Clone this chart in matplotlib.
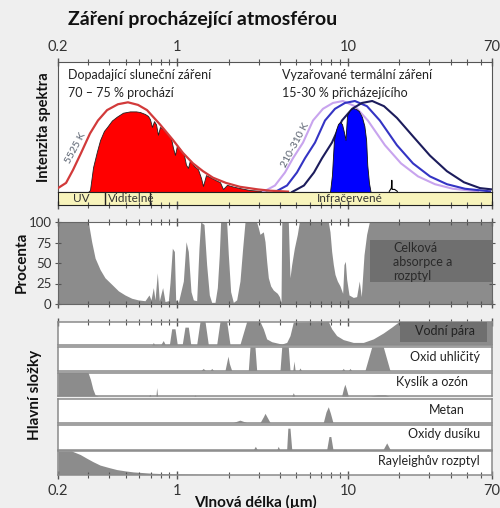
import matplotlib
matplotlib.use('Agg')
import matplotlib.pyplot as plt
from matplotlib.ticker import FixedLocator, NullFormatter
from matplotlib.patches import Rectangle

# ---------------- data ----------------
title = 'Záření procházející atmosférou'
x_major = [0.2, 1, 10, 70]
x_major_labels = ['0.2', '1', '10', '70']
x_minor = [0.3, 0.4, 0.5, 0.6, 0.7, 0.8, 0.9, 2, 3, 4, 5, 6, 7, 8, 9, 20, 30, 40, 50, 60]

# solar 5525 K curve (relative intensity)
sun_w = [0.2, 0.223, 0.245, 0.273, 0.308, 0.343, 0.388, 0.449, 0.514, 0.589, 0.665,
         0.792, 0.944, 1.081, 1.237, 1.416, 1.62, 1.93, 2.33, 2.97, 3.50, 4.46]
sun_v = [0.03, 0.07, 0.17, 0.30, 0.45, 0.55, 0.63, 0.675, 0.69, 0.67, 0.63,
         0.52, 0.40, 0.30, 0.22, 0.16, 0.11, 0.07, 0.04, 0.02, 0.01, 0.003]

# solar radiation reaching ground
sunT_w = [0.300, 0.308, 0.321, 0.338, 0.353, 0.372, 0.388, 0.414, 0.443, 0.481, 0.528,
          0.573, 0.605, 0.647, 0.674, 0.692, 0.711, 0.731, 0.751, 0.771, 0.792, 0.836,
          0.883, 0.919, 0.944, 0.970, 0.997, 1.052, 1.095, 1.125, 1.156, 1.188, 1.254,
          1.323, 1.378, 1.416, 1.474, 1.577, 1.687, 1.781, 1.854, 1.957, 2.122, 2.33,
          2.669, 3.14, 3.593]
sunT_v = [0.0, 0.015, 0.19, 0.31, 0.40, 0.47, 0.50, 0.55, 0.58, 0.61, 0.62,
          0.62, 0.615, 0.60, 0.585, 0.56, 0.50, 0.545, 0.52, 0.44, 0.50, 0.48,
          0.44, 0.415, 0.34, 0.285, 0.36, 0.32, 0.285, 0.21, 0.185, 0.245, 0.20,
          0.175, 0.108, 0.046, 0.13, 0.11, 0.09, 0.075, 0.023, 0.055, 0.042, 0.03,
          0.015, 0.008, 0.0]

# thermal emission curves 210-310 K
th1_w = [3.18, 3.74, 4.28, 4.77, 5.46, 6.25, 7.15, 8.18, 9.37, 11.0, 13.1, 16.5, 20.5, 25.8, 32.4, 41.3, 57.9]
th1_v = [0.0, 0.05, 0.15, 0.26, 0.38, 0.55, 0.64, 0.685, 0.70, 0.66, 0.55, 0.36, 0.22, 0.12, 0.06, 0.025, 0.005]
th2_w = [3.74, 4.40, 5.03, 5.61, 6.42, 7.35, 8.41, 9.62, 11.0, 12.95, 15.4, 19.4, 24.1, 30.3, 38.1, 48.6, 68.1]
th2_v = [0.0, 0.05, 0.15, 0.26, 0.38, 0.55, 0.64, 0.685, 0.70, 0.66, 0.55, 0.36, 0.22, 0.12, 0.06, 0.025, 0.005]
th3_w = [4.71, 5.53, 6.33, 7.06, 8.07, 9.24, 10.6, 12.1, 13.9, 16.3, 19.4, 24.4, 30.3, 38.1, 47.9, 59.5, 70]
th3_v = [0.0, 0.05, 0.15, 0.26, 0.38, 0.55, 0.64, 0.685, 0.70, 0.66, 0.57, 0.42, 0.28, 0.16, 0.075, 0.03, 0.02]

# thermal radiation escaping to space
thT_w = [7.86, 8.07, 8.29, 8.52, 8.76, 8.99, 9.24, 9.49, 9.69, 9.89, 10.3, 10.7, 11.2, 11.6,
         12.1, 12.5, 12.8, 13.0, 13.3, 13.6]
thT_v = [0.0, 0.13, 0.40, 0.477, 0.523, 0.538, 0.523, 0.46, 0.40, 0.59, 0.63, 0.646, 0.638, 0.623,
         0.577, 0.508, 0.40, 0.208, 0.07, 0.0]
thX_w = [17.5, 18.0, 18.1, 18.2, 18.8, 19.5]
thX_v = [0.005, 0.03, 0.09, 0.02, 0.02, 0.005]

band_edges = [0.2, 0.377, 0.697, 70]
band_names = ['UV', 'Viditelné', 'Infračervené']

# total absorption and scattering (%)
tot_w = [0.2, 0.301, 0.315, 0.330, 0.353, 0.377, 0.413, 0.452, 0.494, 0.541, 0.591, 0.647,
         0.683, 0.702, 0.724, 0.741, 0.764, 0.785, 0.821, 0.848, 0.887, 0.907, 0.936, 0.962,
         0.979, 1.015, 1.086, 1.126, 1.161, 1.204, 1.243, 1.300, 1.341, 1.372, 1.435, 1.487,
         1.542, 1.591, 1.665, 1.718, 1.764, 1.796, 1.948, 1.993, 2.056, 2.132, 2.230, 2.332,
         2.418, 2.496, 2.920, 2.987, 3.055, 3.196, 3.270, 3.344, 3.420, 3.529, 3.658, 3.862,
         3.968, 4.058, 4.10, 4.478, 4.580, 4.686, 4.858, 5.058, 5.196, 7.684, 7.860, 8.040,
         8.222, 8.410, 8.680, 8.996, 9.326, 9.494, 9.666, 9.844, 10.16, 10.77, 11.26, 11.67,
         11.99, 12.44, 12.89, 13.37, 70]
tot_v = [100, 100, 76, 56, 42, 32, 24, 16, 11, 7, 5, 4,
         11, 5, 20, 5, 38, 4, 20, 3, 4, 26, 68, 64,
         5, 2, 28, 76, 64, 15, 5, 4, 68, 100, 97, 48,
         11, 2, 2, 20, 60, 100, 100, 60, 15, 2, 5, 28,
         68, 100, 100, 93, 85, 88, 76, 52, 32, 22, 17, 13,
         9, 2, 100, 100, 32, 48, 68, 85, 100, 100, 88, 64,
         48, 36, 28, 22, 13, 48, 52, 30, 11, 8, 9, 28,
         9, 60, 85, 100, 100]

# individual components (% absorption)
h2o_w = [0.2, 0.70, 0.715, 0.724, 0.735, 0.80, 0.828, 0.85, 0.90, 0.928, 0.97, 1.0, 1.07,
         1.11, 1.161, 1.2, 1.30, 1.36, 1.455, 1.521, 1.703, 1.781, 1.949, 2.038, 2.33,
         2.553, 3.056, 3.195, 3.344, 3.578, 3.828, 4.097, 4.382, 4.581, 4.789, 7.683,
         8.04, 8.60, 9.40, 10.76, 12.32, 14.10, 16.14, 18.07, 19.75, 70]
h2o_v = [0, 0, 2, 11, 2, 1, 19, 2, 3, 69, 69, 3, 3,
         76, 76, 3, 2, 100, 100, 2, 2, 100, 100, 2, 2,
         100, 100, 69, 26, 14, 9, 4, 11, 40, 97, 100,
         69, 40, 23, 11, 11, 26, 51, 76, 97, 100]
co2_w = [0.2, 1.38, 1.421, 1.46, 1.56, 1.592, 1.63, 1.905, 1.95, 1.984, 2.02, 2.085, 2.609,
         2.669, 2.856, 2.922, 4.003, 4.097, 4.477, 4.581, 4.76, 4.834, 4.91, 5.15, 5.243,
         5.34, 9.2, 9.40, 9.6, 10.1, 10.3, 10.5, 12.6, 13.8, 16.14, 17.66, 70]
co2_v = [0, 0, 9, 0, 0, 9, 0, 0, 35, 61, 30, 0, 0,
         100, 100, 0, 0, 100, 100, 0, 0, 40, 0, 0, 11,
         0, 0, 9, 0, 0, 9, 0, 0, 100, 100, 0, 0]
o3_w = [0.2, 0.30, 0.31, 0.32, 0.33, 0.345, 0.68, 0.692, 0.70, 0.75, 0.758, 0.767, 1.25,
        1.27, 1.29, 4.7, 4.79, 4.88, 9.2, 9.45, 9.61, 9.8, 10.06, 13.5, 15.0, 16.5, 17.5, 70]
o3_v = [100, 100, 70, 30, 5, 0, 0, 7, 0, 0, 36, 0, 0,
        4, 0, 0, 14, 0, 0, 35, 50, 30, 0, 0, 5, 5, 0, 0]
ch4_w = [0.2, 2.13, 2.33, 2.55, 3.06, 3.20, 3.27, 3.38, 3.50, 7.18, 7.45, 7.68, 7.9, 8.18, 70]
ch4_v = [0, 0, 10, 0, 0, 25, 39, 20, 0, 0, 45, 67, 40, 0, 0]
n2o_w = [0.2, 2.80, 2.87, 2.94, 3.84, 3.91, 3.98, 4.38, 4.45, 4.58, 4.69, 7.52, 7.75, 7.95,
         8.18, 16.1, 16.9, 17.7, 70]
n2o_v = [0, 0, 13, 0, 0, 13, 0, 0, 87, 87, 0, 0, 53, 53, 0, 0, 27, 0, 0]
ray_w = [0.2, 0.24, 0.246, 0.27, 0.295, 0.32, 0.353, 0.40, 0.442, 0.50, 0.553, 0.692, 0.867,
         1.36, 2.13, 70]
ray_v = [100, 100, 97, 85, 69, 55, 40, 29, 21, 15, 11, 6, 3, 1, 0, 0]

rows = [(h2o_w, h2o_v, 'Vodní pára'),
        (co2_w, co2_v, 'Oxid uhličitý'),
        (o3_w, o3_v, 'Kyslík a ozón'),
        (ch4_w, ch4_v, 'Metan'),
        (n2o_w, n2o_v, 'Oxidy dusíku'),
        (ray_w, ray_v, 'Rayleighův rozptyl')]

# ---------------- layout ----------------
plt.rcParams['font.family'] = ['Lato', 'DejaVu Sans']
W, H = 500, 508
X0, X1 = 58, 492
GRAY = '#8c8c8c'
DARK = '#6f6f6f'
TXT = '#333333'

fig = plt.figure(figsize=(5.0, 5.08), dpi=100, facecolor='#efefef')


def rect(y0, y1, x0=X0, x1=X1):
    return [x0 / W, 1 - y1 / H, (x1 - x0) / W, (y1 - y0) / H]


def fp(x, y):
    return x / W, 1 - y / H


def setx(ax, top=False, bottom=False, labeltop=False, labelbottom=False):
    ax.set_xscale('log')
    ax.set_xlim(0.2, 70)
    ax.xaxis.set_major_locator(FixedLocator(x_major))
    ax.xaxis.set_minor_locator(FixedLocator(x_minor))
    ax.xaxis.set_minor_formatter(NullFormatter())
    ax.set_xticklabels(x_major_labels)
    ax.tick_params(axis='x', which='both', top=top, bottom=bottom,
                   labeltop=labeltop, labelbottom=labelbottom,
                   direction='inout', colors='#555555', labelcolor=TXT, labelsize=10.5)
    ax.tick_params(axis='x', which='major', length=6, width=1)
    ax.tick_params(axis='x', which='minor', length=4, width=0.8)


fig.text(*fp(68, 20), title, fontsize=14, fontweight='bold', ha='left', va='center', color='#111111')

# spectrum panel
ax1 = fig.add_axes(rect(62, 192))
setx(ax1, top=True, labeltop=True)
ax1.tick_params(axis='x', which='both', pad=3)
ax1.set_ylim(0, 1)
ax1.set_yticks([])
for s in ax1.spines.values():
    s.set_color('#555555')
ax1.fill_between(sunT_w, sunT_v, 0, facecolor='#ff0000', edgecolor='#222222', lw=0.6, zorder=2)
ax1.plot(sun_w, sun_v, color='#d23a3a', lw=1.6, zorder=3)
ax1.plot(th1_w, th1_v, color='#c8a4ee', lw=1.5, zorder=2)
ax1.plot(th2_w, th2_v, color='#3434c4', lw=1.5, zorder=2)
ax1.plot(th3_w, th3_v, color='#1c1c5c', lw=1.5, zorder=2)
ax1.fill_between(thT_w, thT_v, 0, facecolor='#0000ff', edgecolor='#111111', lw=0.6, zorder=3)
ax1.plot(thX_w, thX_v, color='black', lw=0.8, zorder=3)

fig.text(*fp(68, 75), 'Dopadající sluneční záření', fontsize=9, ha='left', va='center', color='#222222')
fig.text(*fp(68, 93), '70 – 75 % prochází', fontsize=9, ha='left', va='center', color='#222222')
fig.text(*fp(282, 75), 'Vyzařované termální záření', fontsize=9, ha='left', va='center', color='#222222')
fig.text(*fp(282, 93), '15-30 % přicházejícího', fontsize=9, ha='left', va='center', color='#222222')
fig.text(*fp(76, 148), '5525 K', fontsize=7.5, rotation=62, ha='center', va='center', color='#5a6270')
fig.text(*fp(295, 145), '210-310 K', fontsize=7.5, rotation=62, ha='center', va='center', color='#5a6270')

# band strip
axb = fig.add_axes(rect(192, 204.5))
setx(axb, bottom=True)
axb.set_ylim(0, 1)
axb.set_yticks([])
axb.set_facecolor('#f8f4bc')
for s in axb.spines.values():
    s.set_color('#222222')
for e in band_edges[1:-1]:
    axb.axvline(e, color='#222222', lw=1)
axb.text(0.273, 0.45, band_names[0], fontsize=8.5, ha='center', va='center', color='#333333')
axb.text(0.39, 0.45, band_names[1], fontsize=8.5, ha='left', va='center', color='#333333')
axb.text(10.3, 0.45, band_names[2], fontsize=8.5, ha='center', va='center', color='#333333')

# total absorption panel
ax2 = fig.add_axes(rect(222, 304))
setx(ax2, top=True, bottom=True)
ax2.set_ylim(0, 100)
ax2.fill_between(tot_w, tot_v, 0, color=GRAY, lw=0)
ax2.set_yticks([0, 25, 50, 75, 100])
ax2.tick_params(axis='y', which='both', left=True, right=True, direction='inout', length=5,
                colors='#555555', labelcolor=TXT, labelsize=9.5, pad=2)
for s in ax2.spines.values():
    s.set_color('#666666')
ax2.add_patch(Rectangle((0.719, 0.27), 0.281, 0.51, transform=ax2.transAxes,
                        facecolor=DARK, edgecolor='none', zorder=3))
fig.text(*fp(393, 262), 'Celková\nabsorpce a\nrozptyl', fontsize=9, ha='left', va='center',
         color='#2a2a2a', linespacing=1.25, zorder=5)

# component rows
rows_px = [(321.5, 345), (347, 370.5), (372.5, 396), (399, 422.5), (425, 449.5), (451, 474.5)]
label_pos = [(445, 331, 'center'), (480, 357, 'right'), (468, 382, 'right'),
             (465, 410, 'right'), (480, 434, 'right'), (480, 461, 'right')]
for i, ((w, v, name), (y0, y1), (lx, ly, ha)) in enumerate(zip(rows, rows_px, label_pos)):
    ax = fig.add_axes(rect(y0, y1))
    setx(ax, top=(i == 0), bottom=(i == len(rows) - 1), labelbottom=(i == len(rows) - 1))
    ax.set_ylim(0, 100)
    ax.set_yticks([])
    ax.fill_between(w, v, 0, color=GRAY, lw=0)
    for s in ax.spines.values():
        s.set_color('#8a8a8a')
        s.set_linewidth(1.1)
    if i == 0:
        ax.add_patch(Rectangle((0.788, 0.13), 0.20, 0.87, transform=ax.transAxes,
                               facecolor=DARK, edgecolor='none', zorder=3))
    if i == len(rows) - 1:
        ax.tick_params(axis='x', which='both', pad=4)
    fig.text(*fp(lx, ly), name, fontsize=9, ha=ha, va='center', color='#222222', zorder=5)

# axis titles
fig.text(*fp(44, 127), 'Intenzita spektra', fontsize=10.5, fontweight='bold', rotation=90,
         ha='center', va='center', color='#111111')
fig.text(*fp(22, 262), 'Procenta', fontsize=11, fontweight='bold', rotation=90,
         ha='center', va='center', color='#111111')
fig.text(*fp(35, 395), 'Hlavní složky', fontsize=11, fontweight='bold', rotation=90,
         ha='center', va='center', color='#111111')
fig.text(*fp(255, 502), 'Vlnová délka (µm)', fontsize=11, fontweight='bold',
         ha='center', va='center', color='#111111')

fig.savefig('out.png', dpi=100, facecolor=fig.get_facecolor())
